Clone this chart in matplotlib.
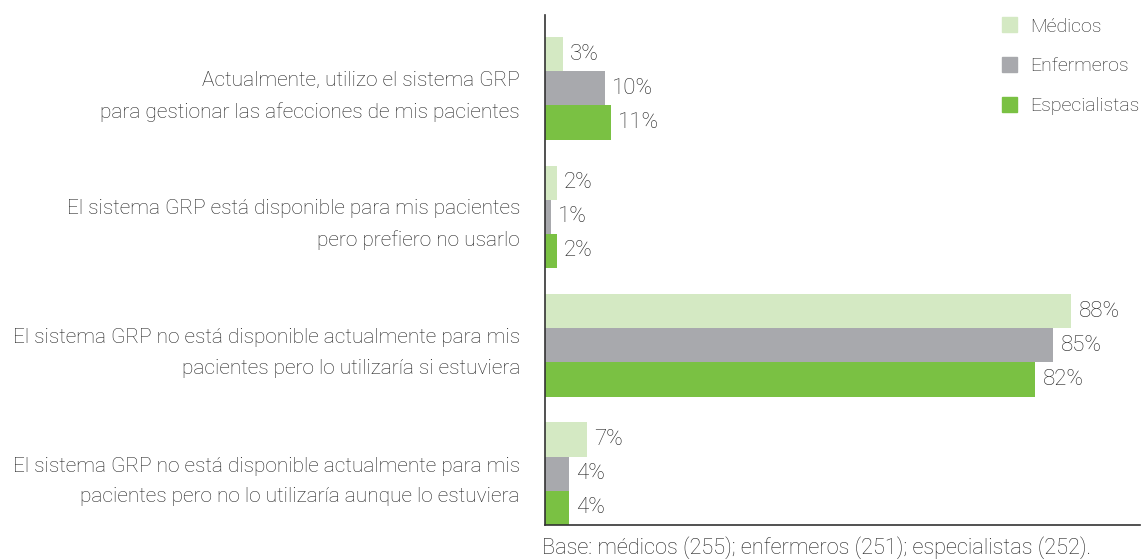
import numpy as np
import matplotlib.pyplot as plt
from matplotlib.patches import Patch

plt.rcParams['font.family'] = ['Roboto', 'DejaVu Sans']
plt.rcParams['font.weight'] = 'light'

categories = [
    'Actualmente, utilizo el sistema GRP\npara gestionar las afecciones de mis pacientes',
    'El sistema GRP está disponible para mis pacientes\npero prefiero no usarlo',
    'El sistema GRP no está disponible actualmente para mis\npacientes pero lo utilizaría si estuviera',
    'El sistema GRP no está disponible actualmente para mis\npacientes pero no lo utilizaría aunque lo estuviera',
]
series = ['Médicos', 'Enfermeros', 'Especialistas']
medicos = [3, 2, 88, 7]
enfermeros = [10, 1, 85, 4]
especialistas = [11, 2, 82, 4]
colors = ['#d4e9c3', '#a8a9ad', '#7ac143']
txt = '#222222'

fig = plt.figure(figsize=(11.43, 5.6), dpi=100)
ax = fig.add_axes([0.4768, 0.0625, 0.5206, 0.9105])

y = np.arange(len(categories))
h = 0.266
for i, (vals, name, c) in enumerate(zip([medicos, enfermeros, especialistas], series, colors)):
    pos = y + (i - 1) * h
    ax.barh(pos, vals, height=h, color=c, label=name)
    for p, v in zip(pos, vals):
        ax.text(v + 1.2, p, f'{v}%', va='center', ha='left', fontsize=16,
                color=txt, fontweight='light')

ax.set_xlim(0, 99.5)
ax.set_ylim(3 + 1.5 * h, -0.57)
ax.set_yticks(y)
ax.set_yticklabels(categories, fontsize=15, color=txt, fontweight='light',
                   linespacing=1.75)
ax.tick_params(axis='y', length=0, pad=18)
ax.set_xticks([])
for s in ['top', 'right']:
    ax.spines[s].set_visible(False)
for s in ['left', 'bottom']:
    ax.spines[s].set_color('#333333')
    ax.spines[s].set_linewidth(1.2)

handles = [Patch(color=c, label=n) for c, n in zip(colors, series)]
leg = fig.legend(handles=handles, loc='upper left', bbox_to_anchor=(0.861, 1.0),
                 frameon=False, fontsize=14, handlelength=0.8, handleheight=0.8,
                 labelspacing=1.1, handletextpad=0.65)
for t in leg.get_texts():
    t.set_color(txt)
    t.set_fontweight('light')

fig.text(0.4745, 0.022, 'Base: médicos (255); enfermeros (251); especialistas (252).',
         fontsize=15.7, color=txt, fontweight='light', ha='left', va='center')

fig.savefig('out.png', dpi=100)
